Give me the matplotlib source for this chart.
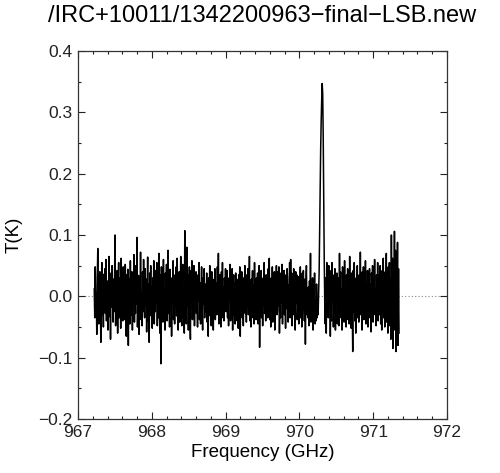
import numpy as np
import matplotlib
matplotlib.use("Agg")
import matplotlib.pyplot as plt
from matplotlib.ticker import MultipleLocator

plt.rcParams['font.family'] = ['Liberation Sans', 'DejaVu Sans']

title = "/IRC+10011/1342200963\u2212final\u2212LSB.new"
x_label = "Frequency (GHz)"
y_label = "T(K)"
freq_first = 967.22   # GHz, first channel
freq_last = 971.35    # GHz, last channel
x_ticks = [967, 968, 969, 970, 971, 972]
y_ticks = [-0.2, -0.1, 0.0, 0.1, 0.2, 0.3, 0.4]

# antenna temperature per channel, in mK
t_mk = [
    12, -35, 48, -20, 5, -62, 30, 78, -15, -45, 22, 40, -8, -75, 18, 55, -30, 3, -50, 36,
    -12, 45, -28, 60, -40, 8, 25, -55, -5, 65, -33, 14, -70, 38, -18, 50, -2, -42, 28, -25,
    33, 100, -48, 10, -22, 42, -60, 18, 55, -35, -8, 30, -52, 62, -15, 4, -40, 48, -28, 20,
    -38, 52, 6, -65, 35, -20, 44, -80, 15, 28, -45, 58, -10, -30, 40, -55, 22, -5, 68, -42,
    18, -28, 50, -12, 96, -50, 8, 34, -62, 26, -18, 72, -38, 5, -48, 40, -25, 60, -8, -35,
    45, -15, 28, -58, 12, 64, -40, 20, -75, 38, -5, 50, -32, 15, -52, 30, -20, 58, -45, 10,
    -25, 42, -10, 55, -48, 22, -35, 70, -18, -60, 35, -110, 48, -8, 25, -42, 60, -30, 12, -55,
    38, -20, 52, -40, 5, 75, -28, 18, -50, 44, -12, 30, -65, 25, -5, 58, -38, 15, -45, 35,
    -18, 48, -32, 62, -8, -55, 28, 40, -42, 10, 65, -25, -48, 20, 52, -35, 8, -60, 107, -30,
    25, -45, 80, -15, 35, -55, 12, 48, -30, -70, 42, -8, 58, -38, 18, -22, 50, -48, 30, -12,
    40, -28, 15, -50, 35, -8, 55, -38, 22, -45, 10, 48, -20, -55, 30, -12, 45, -35, 20, -25,
    -8, 38, -42, 25, -65, 30, -15, 50, -32, 12, -48, 40, -5, 28, -55, 18, -25, 45, -38, 15,
    22, -30, 48, -12, 70, -45, 8, 35, -28, -50, 40, -18, 55, -35, 15, -40, 30, -8, 45, -25,
    -15, 42, -35, 20, -48, 30, -5, 52, -40, 18, -25, 45, -55, 10, 35, -30, 22, -45, 38, -12,
    28, -40, 15, -52, 35, -20, 48, -65, 25, -8, 40, -35, 12, -48, 30, -15, 50, -28, 8, -42,
    35, -18, 45, -30, 10, 65, -40, 22, -50, 28, -12, 42, -35, 18, -45, 55, -25, 8, -38, 30,
    -20, 38, -45, 15, 50, -83, 25, -10, 42, -35, 20, -48, 30, -15, 55, -28, 12, -40, 35, -22,
    18, -35, 45, -12, 62, -38, 8, -50, 30, -20, 48, -42, 15, -28, 40, -55, 22, -8, 50, -30,
    -25, 40, -15, 48, -60, 20, -35, 38, -10, 52, -45, 25, -18, 42, -30, 10, -52, 35, -20, 45,
    30, -42, 18, -25, 55, -35, 60, -15, 38, -48, 12, -30, 45, -20, 28, -55, 40, -10, 35, -38,
    -18, 32, -45, 25, -8, 48, -35, 15, -50, 38, -22, 42, -12, -40, 28, -78, 20, 50, -30, 10,
    -35, 15, -48, 25, -20, 70, -42, 5, -30, 30, -55, 12, -25, 38, -45, -10, -40, 20, -35, -18,
    -30, 5, 40, 110, 185, 240, 285, 320, 347, 330, 260, 160, 60, -10, -45, 30, -60, 55, -20, 40,
    -35, 50, -15, 42, -65, 20, -40, 55, -8, 35, -50, 18, -28, 45, -55, 25, -12, 38, -45, 15,
    30, -48, 70, -20, 40, -35, 12, -55, 48, -10, 28, -42, 58, -25, 15, -50, 35, -18, 45, -38,
    20, -45, 65, -30, 10, -52, 38, -15, -90, 42, -25, 55, -40, 18, -60, 30, -8, 50, -35, 22,
    -42, 35, -18, 72, -30, 12, -55, 40, -20, 48, -38, 25, -10, 58, -45, 15, -28, 42, -50, 30,
    -15, 45, -35, 20, -58, 38, -8, 50, -42, 25, -20, 60, -30, 12, -48, 35, -25, 55, -40, 18,
    35, -30, 50, -45, 15, -55, 42, -18, 62, -35, 25, -50, 40, -12, 70, -42, 20, -60, 48, -25,
    55, -48, 30, -70, 100, -40, 62, -85, 35, -20, 106, -55, 75, -90, 40, -30, 88, -80, 45, -60,
]

temp = np.array(t_mk) / 1000.0
freq = np.linspace(freq_first, freq_last, len(temp))

fig = plt.figure(figsize=(5.0, 4.73), dpi=100)
ax = fig.add_axes([0.156, 0.1142, 0.738, 0.778])

ax.axhline(0.0, color='#888888', lw=0.8, ls=(0, (1, 2)), zorder=1)
ax.plot(freq, temp, color='black', lw=1.1, zorder=2)

ax.set_xlim(967, 972)
ax.set_ylim(-0.2, 0.4)
ax.set_xticks(x_ticks)
ax.set_yticks(y_ticks)
ax.set_xticklabels([str(v) for v in x_ticks])
ax.set_yticklabels([f"{v:.1f}".replace('-', '\u2212') for v in y_ticks])
ax.xaxis.set_minor_locator(MultipleLocator(0.2))
ax.yaxis.set_minor_locator(MultipleLocator(0.05))
ax.tick_params(which='both', direction='in', top=True, right=True,
               labelsize=12.5, colors='#222222', width=0.8, pad=4)
ax.tick_params(which='major', length=5)
ax.tick_params(which='minor', length=2.5)
for s in ax.spines.values():
    s.set_linewidth(0.9)
    s.set_color('#333333')

ax.set_xlabel(x_label, fontsize=13.5, labelpad=3)
ax.set_ylabel(y_label, fontsize=13.5, labelpad=11)
ax.set_title(title, fontsize=17, pad=21)

fig.savefig("out.png", dpi=100)
